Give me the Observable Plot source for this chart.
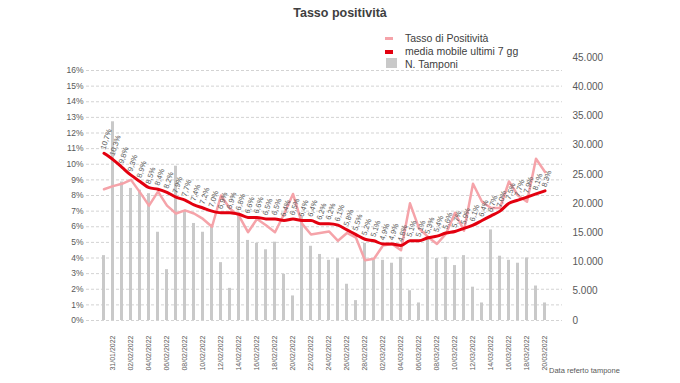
<!DOCTYPE html>
<html>
<head>
<meta charset="utf-8">
<script src="https://cdn.jsdelivr.net/npm/d3@7"></script>
<script src="https://cdn.jsdelivr.net/npm/@observablehq/plot@0.6"></script>
<style>
  body { margin: 0; background: #fff; font-family: "Liberation Sans", Arial, sans-serif; }
  #wrap { position: relative; width: 680px; height: 383px; overflow: hidden; background: #fff; }
  #title { position: absolute; left: 0; width: 680px; top: 6px; text-align: center; font-weight: bold; font-size: 12.5px; color: #404040; }
  .leg { position: absolute; left: 405px; font-size: 10.5px; color: #404040; line-height: 12px; white-space: nowrap; }
  .sw { position: absolute; }
  #note { position: absolute; left: 549px; top: 366px; font-size: 7.5px; color: #595959; white-space: nowrap; }
  #chart { position: absolute; left: 0; top: 0; }
</style>
</head>
<body>
<div id="wrap">
  <div id="chart"></div>
  <div id="title">Tasso positività</div>
  <div class="sw" style="left:385px;top:37px;width:8px;height:3px;background:#f5a3a9"></div>
  <div class="leg" style="top:32px">Tasso di Positività</div>
  <div class="sw" style="left:385px;top:50px;width:8px;height:4px;background:#e3000f"></div>
  <div class="leg" style="top:45px">media mobile ultimi 7 gg</div>
  <div class="sw" style="left:386px;top:58px;width:11px;height:10px;background:#c9c9c9"></div>
  <div class="leg" style="top:58px">N. Tamponi</div>
  <div id="note">Data referto tampone</div>
</div>
<script>
const dates = [
  "30/01/2022","31/01/2022",
  "01/02/2022","02/02/2022","03/02/2022","04/02/2022","05/02/2022","06/02/2022","07/02/2022",
  "08/02/2022","09/02/2022","10/02/2022","11/02/2022","12/02/2022","13/02/2022","14/02/2022",
  "15/02/2022","16/02/2022","17/02/2022","18/02/2022","19/02/2022","20/02/2022","21/02/2022",
  "22/02/2022","23/02/2022","24/02/2022","25/02/2022","26/02/2022","27/02/2022","28/02/2022",
  "01/03/2022","02/03/2022","03/03/2022","04/03/2022","05/03/2022","06/03/2022","07/03/2022",
  "08/03/2022","09/03/2022","10/03/2022","11/03/2022","12/03/2022","13/03/2022","14/03/2022",
  "15/03/2022","16/03/2022","17/03/2022","18/03/2022","19/03/2022","20/03/2022"
];
const tickLabels = [
  "31/01/2022","02/02/2022","04/02/2022","06/02/2022","08/02/2022","10/02/2022","12/02/2022",
  "14/02/2022","16/02/2022","18/02/2022","20/02/2022","22/02/2022","24/02/2022","26/02/2022",
  "28/02/2022","02/03/2022","04/03/2022","06/03/2022","08/03/2022","10/03/2022","12/03/2022",
  "14/03/2022","16/03/2022","18/03/2022","20/03/2022"
];
const tamponi = [
  11100, 34000, 23700, 22600, 22300, 21700, 15100, 8700, 26400, 18800,
  16600, 15100, 16000, 9900, 5500, 18400, 13700, 13200, 12100, 13400,
  7900, 4200, 17700, 12700, 11300, 10300, 10600, 6200, 3400, 13200,
  10300, 10300, 9800, 10800, 5100, 3000, 14000, 10600, 10800, 9400,
  11100, 5700, 3000, 15500, 11000, 10300, 9800, 10700, 5900, 3000
];
const tasso = [
  8.4, 8.6, 8.75, 9.0, 8.2, 7.35, 8.25, 7.35, 6.85, 7.05,
  6.85, 6.5, 6.0, 8.0, 7.15, 6.7, 5.65, 6.5, 6.1, 5.65,
  6.8, 8.1, 6.2, 5.5, 5.6, 5.7, 5.1, 5.6, 5.3, 3.85,
  3.95, 4.8, 4.9, 4.5, 7.5, 5.9, 5.35, 4.9, 5.55, 6.9,
  5.75, 8.75, 7.6, 7.2, 7.2, 8.9, 8.0, 7.6, 10.35, 9.5
];
const media = [
  10.7, 10.3, 9.8, 9.3, 8.9, 8.5, 8.4, 8.2, 7.9, 7.7,
  7.4, 7.2, 7.0, 6.9, 6.9, 6.8, 6.6, 6.6, 6.5, 6.5,
  6.4, 6.5, 6.4, 6.4, 6.2, 6.2, 6.1, 5.8, 5.5, 5.2,
  5.1, 4.9, 4.9, 4.8, 5.1, 5.1, 5.3, 5.4, 5.6, 5.7,
  5.9, 6.1, 6.4, 6.7, 7.0, 7.5, 7.7, 7.9, 8.1, 8.3
];
const leftTicks = [0,1,2,3,4,5,6,7,8,9,10,11,12,13,14,15,16];
const rightTicks = [0,5000,10000,15000,20000,25000,30000,35000,40000,45000];

// right axis (tamponi) expressed in left-axis (%) units
const rightMax = 45000;
const k = 16.832 / rightMax;

const rows = dates.map((d, i) => ({date: d, tp: tamponi[i] * k, p: tasso[i], m: media[i]}));
const itFmt = d3.formatLocale({decimal: ",", thousands: ".", grouping: [3], currency: ["", "€"]}).format(",");

const chart = Plot.plot({
  width: 680, height: 383,
  marginTop: 57, marginBottom: 63, marginLeft: 86, marginRight: 118,
  style: {fontFamily: "Liberation Sans, Arial, sans-serif", color: "#595959", background: "transparent"},
  x: {type: "band", domain: dates, paddingInner: 0.62, paddingOuter: 0.3},
  y: {domain: [0, rightMax * k]},
  marks: [
    Plot.ruleY(leftTicks, {stroke: "#d3d3d3", strokeDasharray: "3,2", strokeWidth: 1}),
    Plot.barY(rows, {x: "date", y: "tp", fill: "#c9c9c9"}),
    Plot.line(rows, {x: "date", y: "p", stroke: "#f5a3a9", strokeWidth: 2.5}),
    Plot.line(rows, {x: "date", y: "m", stroke: "#e3000f", strokeWidth: 3, curve: "monotone-x"}),
    Plot.text(rows, {x: "date", y: "m", text: d => d.m.toFixed(1).replace(".", ",") + "%",
      rotate: -72, textAnchor: "start", dy: -4, dx: -1, fontSize: 7.5, fill: "#595959"}),
    Plot.axisY(leftTicks, {anchor: "left", tickSize: 0, tickPadding: 3, tickFormat: d => d + "%", fontSize: 8.5, label: null}),
    Plot.axisY(rightTicks.map(v => v * k), {anchor: "right", tickSize: 0, tickPadding: 10,
      tickFormat: d => itFmt(Math.round(d / k)), fontSize: 10, label: null}),
    Plot.axisX(tickLabels, {anchor: "bottom", tickSize: 0, tickPadding: 15, tickRotate: -90, fontSize: 7, label: null})
  ]
});
document.getElementById("chart").appendChild(chart);
</script>
</body>
</html>
